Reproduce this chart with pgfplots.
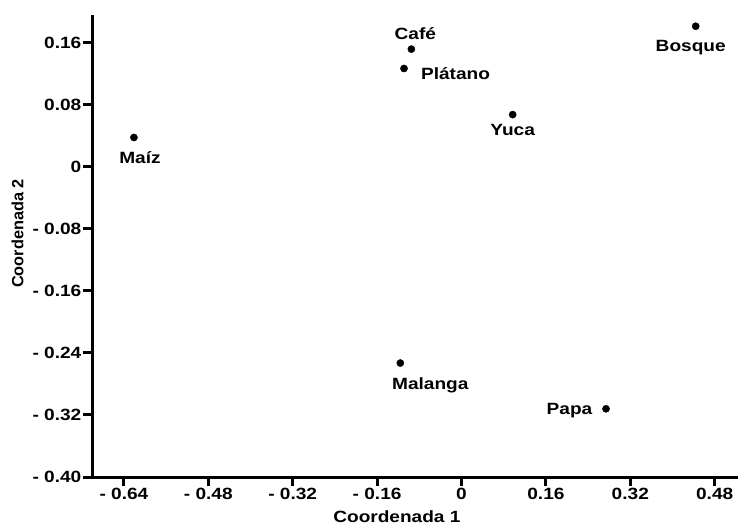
\documentclass[border=0pt]{standalone}
\usepackage{fontspec}
\setmainfont{Liberation Sans}
\newfontfamily\lab[FakeStretch=1.17]{Liberation Sans}
\usepackage{pgfplots}
\pgfplotsset{compat=1.18}
\usetikzlibrary{calc}
\begin{document}
\begin{tikzpicture}[x=1pt,y=1pt]
\useasboundingbox (0,0) rectangle (738,527);
\begin{axis}[
  at={(92pt,50pt)}, anchor=south west,
  scale only axis, width=646pt, height=462pt,
  xmin=-0.7005, xmax=0.5242, ymin=-0.40, ymax=0.196,
  axis x line=bottom, axis y line=left,
  axis line style={-, line width=3pt, black},
  tick align=outside, major tick length=8.5pt,
  every tick/.style={line width=3pt, black},
  xtick={-0.64,-0.48,-0.32,-0.16,0,0.16,0.32,0.48},
  xticklabels={- 0.64,- 0.48,- 0.32,- 0.16,0,0.16,0.32,0.48},
  ytick={-0.40,-0.32,-0.24,-0.16,-0.08,0,0.08,0.16},
  yticklabels={- 0.40,- 0.32,- 0.24,- 0.16,- 0.08,0,0.08,0.16},
  tick label style={font=\lab\bfseries\fontsize{16.3}{19}\selectfont},
  xticklabel style={inner sep=2pt},
  yticklabel style={inner sep=2pt},
  xlabel={Coordenada 1}, ylabel={Coordenada 2},
  xlabel style={font=\lab\bfseries\fontsize{16.3}{19}\selectfont, at={($(rel axis cs:0.472,0)+(0,-45.4pt)$)}, anchor=base},
  ylabel style={font=\bfseries\fontsize{16.3}{19}\selectfont, at={($(rel axis cs:0,0.527)+(-74.5pt,0)$)}, anchor=center},
  clip=false,
  nodes near coords,
  point meta=explicit symbolic,
  every node near coord/.append style={font=\lab\bfseries\fontsize{16.3}{19}\selectfont, inner sep=0pt, black, anchor=base},
]
\addplot[only marks, mark=*, mark size=3.6pt, black, nodes near coords style={xshift=6pt, yshift=-25.9pt}] coordinates {(-0.621,0.038) [Maíz]};
\addplot[only marks, mark=*, mark size=3.6pt, black, nodes near coords style={xshift=0pt, yshift=-20.9pt}] coordinates {(0.097,0.0675) [Yuca]};
\addplot[only marks, mark=*, mark size=3.6pt, black, nodes near coords style={xshift=-5pt, yshift=-24.9pt}] coordinates {(0.444,0.1815) [Bosque]};
\addplot[only marks, mark=*, mark size=3.6pt, black, nodes near coords style={xshift=30pt, yshift=-26.9pt}] coordinates {(-0.116,-0.253) [Malanga]};
\addplot[only marks, mark=*, mark size=3.6pt, black, nodes near coords style={xshift=4pt, yshift=9.6pt}] coordinates {(-0.095,0.152) [Café]};
\addplot[only marks, mark=*, mark size=3.6pt, black, nodes near coords style={xshift=51.5pt, yshift=-10.9pt}] coordinates {(-0.109,0.127) [Plátano]};
\addplot[only marks, mark=*, mark size=3.6pt, black, nodes near coords style={xshift=-36.5pt, yshift=-5.9pt}] coordinates {(0.274,-0.312) [Papa]};
\end{axis}
\end{tikzpicture}
\end{document}
